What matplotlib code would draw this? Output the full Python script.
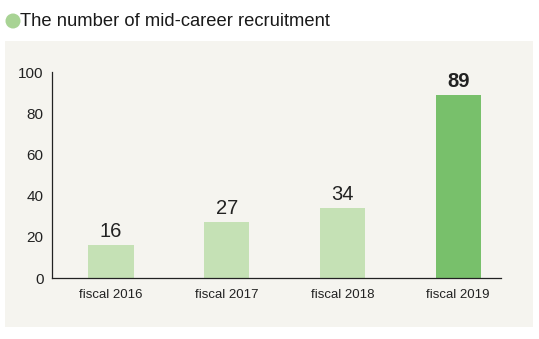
import matplotlib.pyplot as plt
from matplotlib.patches import Rectangle, Ellipse

plt.rcParams['font.family'] = ['Liberation Sans', 'DejaVu Sans']

categories = ['fiscal 2016', 'fiscal 2017', 'fiscal 2018', 'fiscal 2019']
values = [16, 27, 34, 89]
y_ticks = [0, 20, 40, 60, 80, 100]

light_green = '#c5e1b5'
dark_green = '#78c06b'
panel_color = '#f5f4ef'

fig = plt.figure(figsize=(5.39, 3.39), dpi=100)

# beige panel behind the chart
fig.patches.append(Rectangle((5 / 539, 1 - 327 / 339), 528 / 539, 286 / 339,
                             transform=fig.transFigure, facecolor=panel_color,
                             edgecolor='none', zorder=-1))

# title with the green dot
fig.patches.append(Ellipse((13 / 539, 1 - 21 / 339), 15 / 539, 15 / 339,
                           transform=fig.transFigure, facecolor='#a8d394',
                           edgecolor='none'))
fig.text(20 / 539, 1 - 21 / 339, 'The number of mid-career recruitment',
         fontsize=13.2, va='center', ha='left', color='#1a1a1a')

ax = fig.add_axes([52 / 539, 1 - 278 / 339, 449 / 539, 206 / 339])
ax.set_facecolor('none')
ax.set_zorder(2)

colors = [light_green] * 3 + [dark_green]
x = range(len(categories))
bars = ax.bar(x, values, width=0.39, color=colors)

for i, (b, v) in enumerate(zip(bars, values)):
    ax.text(b.get_x() + b.get_width() / 2, v + 2, str(v), ha='center', va='bottom',
            fontsize=14.5, color='#222222',
            fontweight='bold' if i == len(values) - 1 else 'normal')

ax.set_xlim(-0.51, 3.37)
ax.set_ylim(0, 100)
ax.set_yticks(y_ticks)
ax.set_xticks(list(x))
ax.set_xticklabels(categories, fontsize=9.5)
ax.tick_params(axis='y', length=0, pad=6, labelsize=11, labelcolor='#222222')
ax.tick_params(axis='x', length=0, pad=8, labelcolor='#222222')

for s in ['top', 'right']:
    ax.spines[s].set_visible(False)
for s in ['left', 'bottom']:
    ax.spines[s].set_color('#222222')
    ax.spines[s].set_linewidth(0.9)

fig.savefig('out.png', dpi=100, facecolor='white')
